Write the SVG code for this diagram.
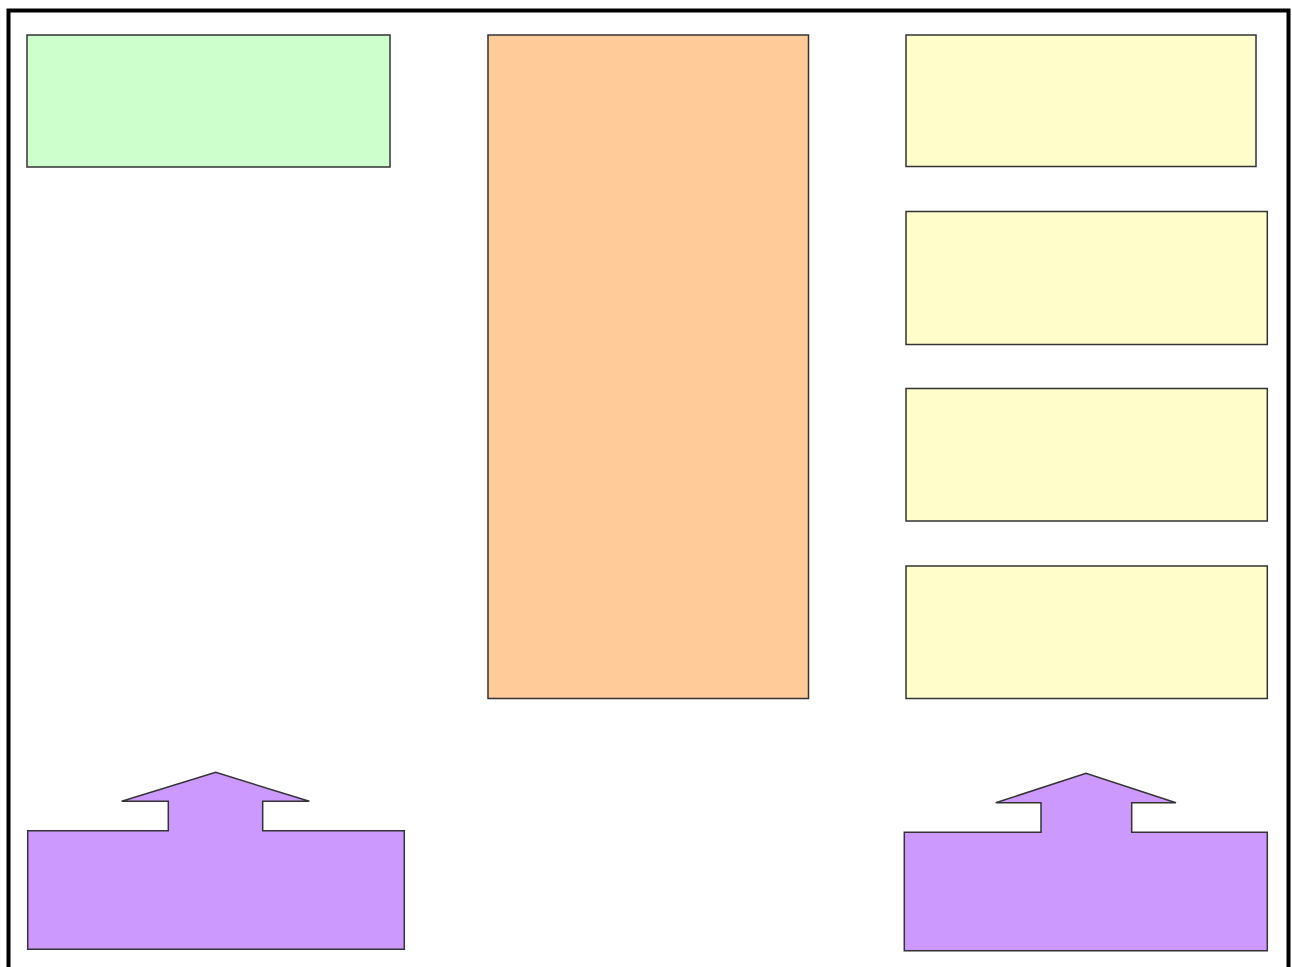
<svg xmlns="http://www.w3.org/2000/svg" width="1292" height="967" viewBox="0 0 1292 967">
<style>
.box{stroke:#333;stroke-width:1.5}
.g{fill:#ccffcc}.o{fill:#ffcc99}.y{fill:#ffffcc}.p{fill:#cc99ff}
</style>
<rect x="0" y="0" width="1292" height="967" fill="#fff"/>
<g id="frame"><rect x="8.5" y="10.5" width="1280" height="1000" fill="none" stroke="#000" stroke-width="4"/></g>
<g id="node-green"><rect class="box g" x="27" y="35" width="363" height="132"/></g>
<g id="node-orange"><rect class="box o" x="488" y="35" width="320.5" height="663.5"/></g>
<g id="node-yellow1"><rect class="box y" x="906" y="35" width="350" height="131.5"/></g>
<g id="node-yellow2"><rect class="box y" x="906" y="211.5" width="361.3" height="133"/></g>
<g id="node-yellow3"><rect class="box y" x="906" y="388.5" width="361.3" height="132.5"/></g>
<g id="node-yellow4"><rect class="box y" x="906" y="566" width="361.3" height="132.5"/></g>
<g id="node-purple-left"><path class="box p" d="M27.7,830.7 H168.3 V801.3 H121.7 L215.7,772.3 L309.3,801.3 H262.7 V830.7 H404.3 V949.3 H27.7 Z"/></g>
<g id="node-purple-right"><path class="box p" d="M904.3,832.3 H1041 V802.7 H995.7 L1086,773.3 L1176,802.7 H1131.7 V832.3 H1267.3 V950.7 H904.3 Z"/></g>
<g id="connectors"></g>
</svg>
